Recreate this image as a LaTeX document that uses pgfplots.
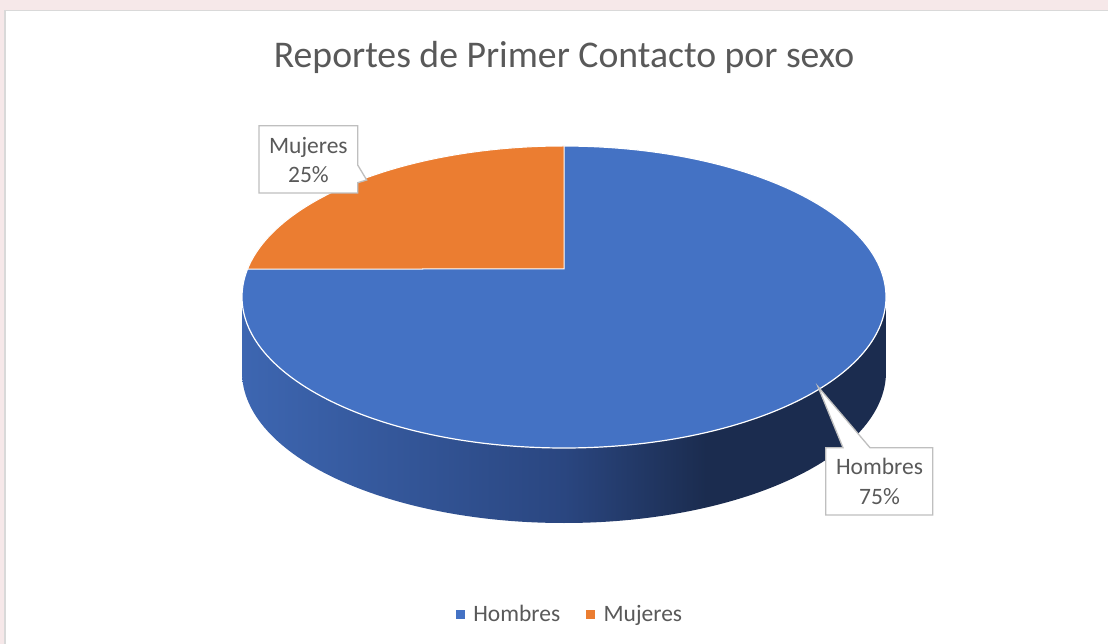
\documentclass[border=0pt]{standalone}
\usepackage{pgfplots}
\pgfplotsset{compat=1.18}
\usepackage{pgfplotstable}
\usepackage{fontspec}
\setmainfont{Carlito}
\definecolor{hblue}{HTML}{4472C4}
\definecolor{morange}{HTML}{EB7D31}
\definecolor{txtgray}{HTML}{595959}
\definecolor{boxgray}{HTML}{BFBFBF}
\definecolor{pinkbg}{HTML}{F6E8E9}
\definecolor{framegray}{HTML}{D9D9D9}
\definecolor{sideA}{HTML}{3D66B1}
\definecolor{sideB}{HTML}{2A4680}
\definecolor{sideC}{HTML}{1B2C4F}
\pgfdeclarehorizontalshading{sideshade}{100bp}{color(0bp)=(sideA); color(25bp)=(sideA); color(50bp)=(sideB); color(61bp)=(sideC); color(75bp)=(sideC); color(100bp)=(sideC)}

\pgfplotstableread{
sexo valor
Hombres 75
Mujeres 25
}\datos
\pgfplotstablegetelem{0}{valor}\of\datos \let\hval\pgfplotsretval
\pgfplotstablegetelem{1}{valor}\of\datos \let\mval\pgfplotsretval
\pgfmathsetmacro\total{\hval+\mval}
\pgfmathsetmacro\msweep{360*\mval/\total}
% screen angle of the slice edge on the tilted (perspective) ellipse
\pgfmathsetmacro\mend{90+\msweep-asin(28/151)*\msweep/90}
\pgfmathtruncatemacro\mpct{round(100*\mval/\total)}
\pgfmathtruncatemacro\hpct{round(100*\hval/\total)}

\begin{document}
\begin{tikzpicture}
\begin{axis}[
  scale only axis, width=1108pt, height=643pt,
  xmin=0, xmax=1108, ymin=0, ymax=643,
  hide axis, clip=false,
  legend columns=2,
  legend style={at={(axis cs:570,29)}, anchor=center, draw=none, fill=none,
    font=\fontsize{23.5}{28}\selectfont, text=txtgray,
    /tikz/every odd column/.append style={column sep=7pt},
    /tikz/every even column/.append style={column sep=24pt}},
]
% frame
\fill[white] (axis cs:0,-5) rectangle (axis cs:1120,643);
\fill[pinkbg] (axis cs:-5,632.5) rectangle (axis cs:1120,650);
\fill[pinkbg] (axis cs:-5,-5) rectangle (axis cs:5,650);
\draw[framegray, line width=1.5pt] (axis cs:5,-5) -- (axis cs:5,632.5) -- (axis cs:1120,632.5);

% side of the pie
\shade[shading=sideshade] (axis cs:242,346) arc[start angle=180,end angle=360,x radius=322pt,y radius=151pt]
  -- ++(0pt,-75pt) arc[start angle=360,end angle=180,x radius=322pt,y radius=151pt] -- cycle;
% top: Hombres
\fill[hblue, draw=white, line width=1.2pt] (axis cs:564,346) ellipse[x radius=322pt, y radius=151pt];
% top: Mujeres
\fill[morange, draw=white, line width=1pt] (axis cs:564,374) -- (axis cs:564,497)
  arc[start angle=90,end angle=\mend,x radius=322pt,y radius=151pt] -- cycle;

% callouts
\draw[boxgray, fill=white, line width=1.3pt] (axis cs:259,517.3) -- (axis cs:357.7,517.3) -- (axis cs:357.7,478)
  -- (axis cs:366.7,463) -- (axis cs:357.7,460.3) -- (axis cs:357.7,450) -- (axis cs:259,450) -- cycle;
\node[anchor=base, text=txtgray, font=\fontsize{23.5}{28}\selectfont, inner sep=0pt] at (axis cs:308.4,489) {Mujeres};
\node[anchor=base, text=txtgray, font=\fontsize{23.5}{28}\selectfont, inner sep=0pt] at (axis cs:308.4,460) {\mpct\%};

\draw[boxgray, fill=white, line width=1.3pt] (axis cs:825.7,195.3) -- (axis cs:843,195.3) -- (axis cs:818,256.3)
  -- (axis cs:870,195.3) -- (axis cs:932.7,195.3) -- (axis cs:932.7,128) -- (axis cs:825.7,128) -- cycle;
\node[anchor=base, text=txtgray, font=\fontsize{23.5}{28}\selectfont, inner sep=0pt] at (axis cs:879.5,168) {Hombres};
\node[anchor=base, text=txtgray, font=\fontsize{23.5}{28}\selectfont, inner sep=0pt] at (axis cs:879.5,139) {\hpct\%};

% title
\node[anchor=base, text=txtgray, font=\fontsize{37.7}{44}\selectfont, inner sep=0pt] at (axis cs:564,575) {Reportes de Primer Contacto por sexo};

% legend
\addlegendimage{legend image code/.code={\fill[hblue] (0pt,-4pt) rectangle (8pt,4pt);}}
\addlegendentry{Hombres}
\addlegendimage{legend image code/.code={\fill[morange] (0pt,-4pt) rectangle (8pt,4pt);}}
\addlegendentry{Mujeres}
\end{axis}
\pgfresetboundingbox
\path[use as bounding box] (current axis.south west) rectangle (current axis.north east);
\end{tikzpicture}
\end{document}
